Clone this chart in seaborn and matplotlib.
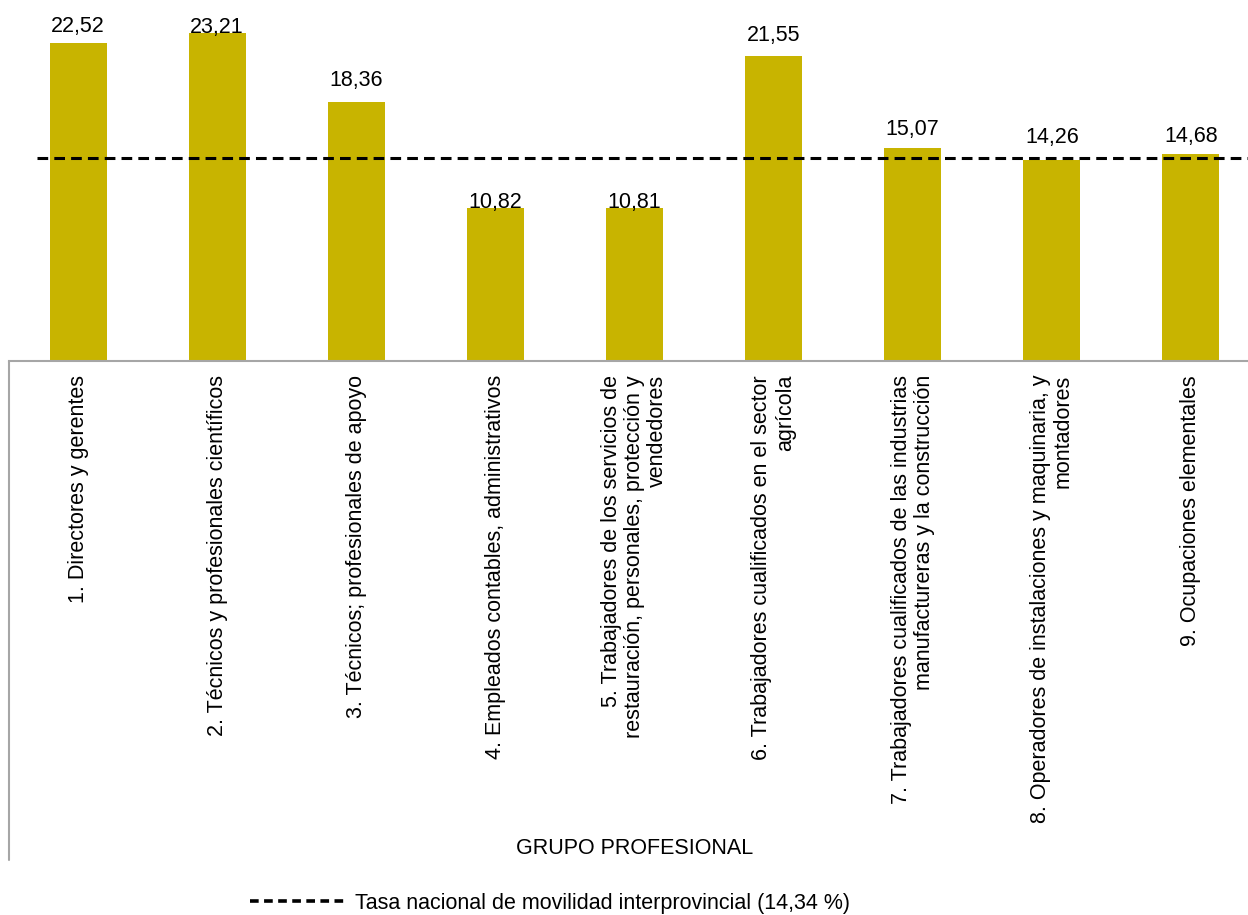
import matplotlib
matplotlib.use("Agg")
import matplotlib.pyplot as plt
from matplotlib.lines import Line2D
import seaborn as sns
import pandas as pd

categories = [
    "1. Directores y gerentes",
    "2. Técnicos y profesionales científicos",
    "3. Técnicos; profesionales de apoyo",
    "4. Empleados contables, administrativos",
    "5. Trabajadores de los servicios de\nrestauración, personales, protección y\nvendedores",
    "6. Trabajadores cualificados en el sector\nagrícola",
    "7. Trabajadores cualificados de las industrias\nmanufactureras y la construcción",
    "8. Operadores de instalaciones y maquinaria, y\nmontadores",
    "9. Ocupaciones elementales",
]
values = [22.52, 23.21, 18.36, 10.82, 10.81, 21.55, 15.07, 14.26, 14.68]
value_labels = ["22,52", "23,21", "18,36", "10,82", "10,81", "21,55", "15,07", "14,26", "14,68"]
national_rate = 14.34
legend_label = "Tasa nacional de movilidad interprovincial (14,34 %)"
axis_title = "GRUPO PROFESIONAL"

# style: vertical offset (px) of each value label centre above its bar
label_offsets_px = [16, 6, 21, 6, 6, 21, 19, 22, 17]

sns.set_style("white")
plt.rcParams["font.family"] = ["Liberation Sans", "DejaVu Sans"]
plt.rcParams["text.color"] = "black"
plt.rcParams["xtick.color"] = "black"

FS = 15.5
W, H = 1248, 915
fig = plt.figure(figsize=(W / 100, H / 100), dpi=100)
base_y = 361
ax = fig.add_axes([8.5 / W, (H - base_y) / H, 1252 / W, base_y / H])

df = pd.DataFrame({"cat": categories, "val": values})
sns.barplot(data=df, x="cat", y="val", color="#C8B400", saturation=1,
            width=0.41, ax=ax, linewidth=0)

ax.set_xlim(-0.5, 8.5)
ax.set_ylim(0, base_y / 14.13)

for i, (v, lab, off) in enumerate(zip(values, value_labels, label_offsets_px)):
    ax.annotate(lab, (i, v), xytext=(0, off * 0.72), textcoords="offset points",
                ha="center", va="center", fontsize=FS, color="black")

ax.axhline(national_rate, xmin=(37 - 8.5) / 1252, xmax=1, color="black",
           lw=2.2, linestyle=(0, (3.5, 2.0)), zorder=3)

for s in ["top", "right", "left"]:
    ax.spines[s].set_visible(False)
ax.spines["bottom"].set_color("#A6A6A6")
ax.spines["bottom"].set_linewidth(1.5)
ax.set_yticks([])
ax.set_ylabel("")
ax.set_xlabel("")
ax.tick_params(axis="x", length=0, pad=10)
ax.set_xticks(range(len(categories)))
ax.set_xticklabels(categories, rotation=90, fontsize=FS, ha="center", va="top",
                   multialignment="right", linespacing=1.15, color="black")

# left category-axis border
fig.add_artist(Line2D([9 / W, 9 / W], [(H - base_y) / H, (H - 860) / H],
                      color="#A6A6A6", lw=1.5))

fig.text(635 / W, 1 - 848 / H, axis_title, ha="center", va="center",
         fontsize=FS, color="black")

proxy = Line2D([], [], color="black", lw=2.6, linestyle=(0, (2.4, 1.5)))
fig.legend(handles=[proxy], labels=[legend_label], loc="center left",
           bbox_to_anchor=(250 / W, 1 - 903 / H), frameon=False, fontsize=FS,
           handlelength=4.5, handletextpad=0.37, borderpad=0, borderaxespad=0,
           labelcolor="black")

fig.savefig("out.png", dpi=100)
